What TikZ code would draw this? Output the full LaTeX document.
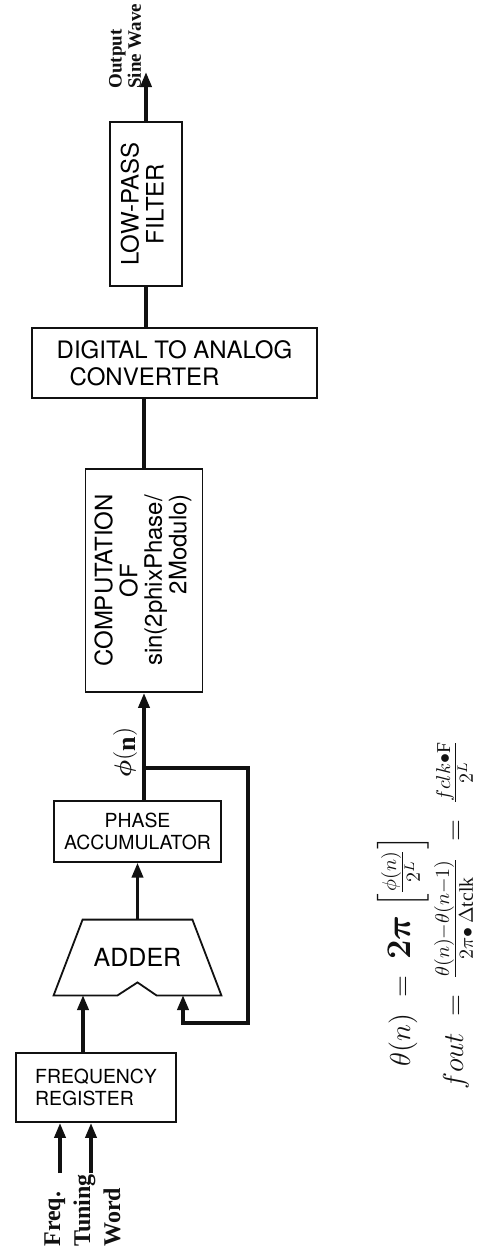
\documentclass[tikz,border=0pt]{standalone}
\usepackage{amsmath}
\usepackage{fontspec}
\setmainfont{Liberation Serif}
\setsansfont{TeX Gyre Heros}
\usepackage{graphicx}
\usepackage{tikz}
\usetikzlibrary{arrows.meta,calc,positioning}
\definecolor{Ink}{HTML}{111111}
\tikzset{
  block/.style={
    draw=Ink, line width=0.9pt, inner sep=0pt, align=center,
    font=\sffamily\fontsize{9.7}{11.2}\selectfont
  },
  bigblock/.style={block, font=\sffamily\fontsize{12}{13.5}\selectfont},
  tag/.style={rotate=90, inner sep=0pt, text=Ink},
  flow/.style={-{Triangle[length=7.5pt,width=5.5pt]}, line width=1.8pt, draw=Ink},
  wire/.style={line width=1.8pt, draw=Ink}
}

\begin{document}
\begin{tikzpicture}[x=0.5pt,y=-0.5pt]
    \useasboundingbox[fill=white] (0,0) rectangle (494,1249);
    % blocks
    \node[block, align=left, minimum width=80pt, minimum height=34.5pt] (freqreg) at (96,1087.5) {FREQUENCY\\REGISTER};
    \node[inner sep=0pt, minimum width=83.5pt, minimum height=37.5pt,
      font=\sffamily\fontsize{12.5}{14}\selectfont] (adder) at (137.5,957.5) {ADDER};
    \node[block, minimum width=83.5pt, minimum height=30.5pt, above=28.5pt of adder] (phaseacc) {PHASE\\ACCUMULATOR};
    \node[bigblock, minimum width=58.5pt, minimum height=111.5pt] (comp) at (144,580.5)
      {\rotatebox{90}{\fontsize{12}{11.7}\selectfont\begin{tabular}{@{}c@{}}COMPUTATION\\OF\\sin(2phixPhase/\\\multicolumn{1}{@{}r@{}}{2Modulo)}\end{tabular}}};
    \node[bigblock, align=left, minimum width=142.5pt, minimum height=35pt] (dac) at (174.5,363) {DIGITAL TO ANALOG\\\hspace*{6.5pt}CONVERTER};
    \node[bigblock, minimum width=36pt, minimum height=82pt] (lpf) at (146,204)
      {\rotatebox{90}{\fontsize{12}{12.5}\selectfont\begin{tabular}{@{}c@{}}LOW-PASS\\FILTER\end{tabular}}};
    % adder outline with notch
    \draw[line width=0.9pt, draw=Ink] ($(adder.north west)+(29,0)$) -- ($(adder.north east)+(-29,0)$)
      -- (adder.south east) -- ($(adder.south)+(19,0)$) -- ($(adder.south)+(0,-13)$)
      -- ($(adder.south)+(-20,0)$) -- (adder.south west) -- cycle;
    % free ends
    \coordinate (inA) at (60,1173);
    \coordinate (inB) at (91,1173);
    \coordinate (addinA) at (83,995);
    \coordinate (addinB) at (183,995);
    \coordinate (tap) at (144,768);
    \coordinate (fbturn) at (248,1023);
    \coordinate (outtip) at (146,72);
    % labels
    \node[tag, anchor=west, align=left, font=\bfseries\fontsize{12}{15}\selectfont] (inlbl) at (82.5,1247) {Freq.\\Tuning\\Word};
    \node[tag, anchor=west, align=left, font=\bfseries\fontsize{9.5}{7}\selectfont] (outlbl) at (125,89) {Output\\Sine Wave};
    \node[tag, anchor=west, font=\bfseries\fontsize{13}{15}\selectfont] (philbl) at (125,778) {$\boldsymbol{\phi}($\raisebox{-2pt}{n}$)$};
    \node[tag, anchor=base west, font=\fontsize{14}{16}\selectfont] (thetaeq) at (410,1067)
      {$\theta(n)\;=\;\mbox{\fontsize{17}{19}\selectfont$\boldsymbol{2\pi}$}\;\Bigl[\frac{\phi(n)}{2^L}\Bigr]$};
    \node[tag, anchor=base west, font=\fontsize{14}{16}\selectfont] (fouteq) at (463,1090)
      {$fout\;=\;\frac{\theta(n)-\theta(n-1)}{2\pi\bullet\,\Delta\mathrm{tclk}}\;=\;\frac{fclk\bullet\mathrm{F}}{2^L}$};
    % connectors
    \draw[flow] (inA) -- (inA |- freqreg.south);
    \draw[flow] (inB) -- (inB |- freqreg.south);
    \draw[flow] (addinA |- freqreg.north) -- (addinA);
    \draw[flow] (adder.north) -- (phaseacc.south);
    \draw[flow] (comp.south |- phaseacc.north) -- (comp.south);
    \draw[flow] (tap) -| (fbturn) -| (addinB);
    \draw[wire] (comp.north) -- (comp.north |- dac.south);
    \draw[wire] (lpf.south) -- (lpf.south |- dac.north);
    \draw[flow] (lpf.north) -- (outtip);
\end{tikzpicture}
\end{document}
